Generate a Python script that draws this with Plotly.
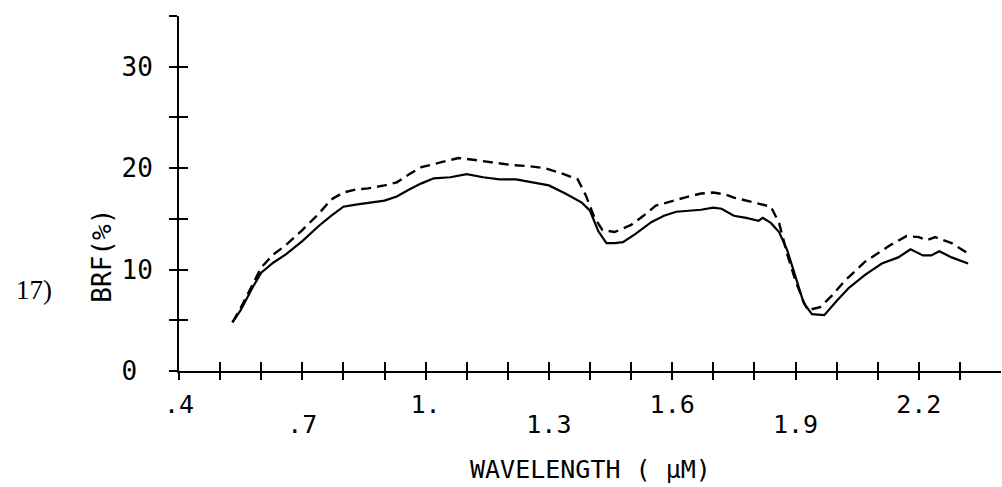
import plotly.graph_objects as go

# ---- data ----
wl_solid = [0.53, 0.55, 0.58, 0.60, 0.63, 0.66, 0.70, 0.74, 0.77, 0.80, 0.83, 0.86, 0.90, 0.93,
            0.96, 0.99, 1.02, 1.06, 1.10, 1.14, 1.18, 1.22, 1.26, 1.30, 1.34, 1.38, 1.40, 1.42,
            1.44, 1.46, 1.48, 1.51, 1.55, 1.58, 1.61, 1.64, 1.67, 1.70, 1.72, 1.75, 1.78, 1.81,
            1.82, 1.84, 1.86, 1.88, 1.90, 1.92, 1.94, 1.97, 2.00, 2.03, 2.07, 2.11, 2.15, 2.18,
            2.21, 2.23, 2.25, 2.28, 2.32]
brf_solid = [4.8, 6.0, 8.3, 9.7, 10.7, 11.5, 12.8, 14.3, 15.3, 16.2, 16.4, 16.6, 16.8, 17.2,
             17.9, 18.5, 19.0, 19.1, 19.4, 19.1, 18.9, 18.9, 18.6, 18.3, 17.5, 16.6, 15.8, 13.8,
             12.6, 12.6, 12.7, 13.5, 14.7, 15.3, 15.7, 15.8, 15.9, 16.1, 16.0, 15.3, 15.1, 14.8,
             15.1, 14.6, 13.7, 11.9, 9.4, 6.7, 5.6, 5.5, 6.9, 8.2, 9.5, 10.6, 11.2, 12.0,
             11.4, 11.4, 11.8, 11.2, 10.6]

wl_dash = [0.53, 0.55, 0.58, 0.60, 0.63, 0.66, 0.70, 0.74, 0.77, 0.80, 0.83, 0.86, 0.90, 0.93,
           0.96, 0.99, 1.02, 1.06, 1.08, 1.12, 1.17, 1.21, 1.25, 1.29, 1.33, 1.37, 1.39, 1.41,
           1.43, 1.46, 1.50, 1.53, 1.56, 1.60, 1.63, 1.67, 1.70, 1.73, 1.75, 1.80, 1.84, 1.86,
           1.88, 1.90, 1.92, 1.93, 1.96, 1.99, 2.02, 2.07, 2.13, 2.17, 2.20, 2.22, 2.24, 2.28,
           2.32]
brf_dash = [4.8, 6.2, 8.6, 10.2, 11.5, 12.4, 13.9, 15.5, 16.9, 17.6, 17.9, 18.0, 18.3, 18.6,
            19.4, 20.1, 20.4, 20.8, 21.0, 20.8, 20.5, 20.3, 20.2, 20.0, 19.5, 18.9, 17.3, 15.2,
            13.9, 13.7, 14.4, 15.3, 16.3, 16.8, 17.1, 17.5, 17.6, 17.4, 17.1, 16.6, 16.2, 14.6,
            11.5, 8.9, 6.8, 6.0, 6.3, 7.5, 8.9, 10.8, 12.4, 13.3, 13.2, 12.9, 13.2, 12.6,
            11.6]

x_ticks = [0.4, 0.5, 0.6, 0.7, 0.8, 0.9, 1.0, 1.1, 1.2, 1.3, 1.4, 1.5, 1.6, 1.7, 1.8, 1.9,
           2.0, 2.1, 2.2, 2.3]
x_labels_upper = [".4", "", "", "", "", "", "1.", "", "", "", "", "", "1.6", "", "", "",
                  "", "", "2.2", ""]
x_labels_lower = ["", "", "", ".7", "", "", "", "", "", "1.3", "", "", "", "", "", "1.9",
                  "", "", "", ""]
y_ticks = [0, 5, 10, 15, 20, 25, 30, 35]
y_labels = ["0\u00a0", "", "10", "", "20", "", "30", ""]

x_title = "WAVELENGTH ( μM)"
y_title = "BRF(%)"
panel_label = "17)"

MONO = "DejaVu Sans Mono"

fig = go.Figure()
fig.add_trace(go.Scatter(x=wl_solid, y=brf_solid, mode="lines",
                         line=dict(color="black", width=2.2), showlegend=False))
fig.add_trace(go.Scatter(x=wl_dash, y=brf_dash, mode="lines",
                         line=dict(color="black", width=2.4, dash="10px,6px"), showlegend=False))
# empty trace to activate the overlay axes (second row of labels / inner tick halves)
fig.add_trace(go.Scatter(x=[], y=[], xaxis="x3", yaxis="y2", showlegend=False))

common_x = dict(range=[0.4, 2.4], tickmode="array", tickvals=x_ticks, showgrid=False,
                zeroline=False, showline=True, linecolor="black", linewidth=2,
                tickcolor="black", tickwidth=2, automargin=False,
                tickfont=dict(family=MONO, size=25, color="black"))
common_y = dict(range=[0, 35], tickmode="array", tickvals=y_ticks, showgrid=False,
                zeroline=False, showline=True, linecolor="black", linewidth=2,
                tickcolor="black", tickwidth=2, automargin=False,
                tickfont=dict(family=MONO, size=26, color="black"))

fig.update_layout(
    width=1002, height=487,
    margin=dict(l=179, r=1, t=16, b=116),
    paper_bgcolor="white", plot_bgcolor="white",
    xaxis=dict(**common_x, ticktext=x_labels_upper, ticks="outside", ticklen=7,
               ticklabelstandoff=3),
    xaxis3=dict(**common_x, ticktext=x_labels_lower, ticks="inside", ticklen=9,
                overlaying="x", anchor="y", side="bottom", ticklabelstandoff=30),
    yaxis=dict(**common_y, ticktext=y_labels, ticks="outside", ticklen=8,
               ticklabelstandoff=11),
    yaxis2=dict(**common_y, ticktext=[""] * len(y_ticks), ticks="inside", ticklen=9,
                overlaying="y", anchor="x", side="left"),
    annotations=[
        dict(text=x_title, xref="paper", yref="paper", x=0.5, y=0, xanchor="center",
             yanchor="middle", yshift=-98, showarrow=False,
             font=dict(family=MONO, size=25, color="black")),
        dict(text=y_title, xref="paper", yref="paper", x=0, y=0.325, xanchor="center",
             yanchor="middle", xshift=-77, textangle=-90, showarrow=False,
             font=dict(family=MONO, size=26, color="black")),
        dict(text=panel_label, xref="paper", yref="paper", x=0, y=0.229, xanchor="center",
             yanchor="middle", xshift=-145, showarrow=False,
             font=dict(family="Liberation Serif", size=27, color="black")),
    ],
)

fig.write_html("out.html", config={"displayModeBar": False})

# remove the browser's default page margin so the figure sits at the window's corner
with open("out.html", encoding="utf-8") as fh:
    page = fh.read()
page = page.replace("<head>", "<head><style>html,body{margin:0;padding:0;overflow:hidden;}</style>", 1)
with open("out.html", "w", encoding="utf-8") as fh:
    fh.write(page)
